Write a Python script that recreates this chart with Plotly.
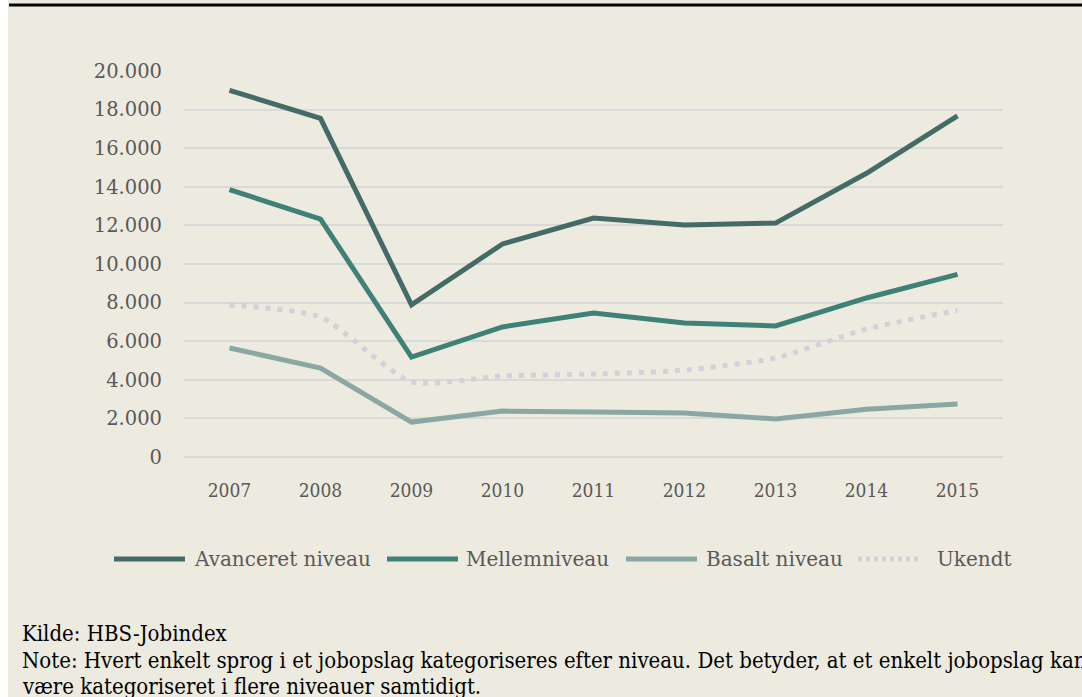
import plotly.graph_objects as go

years = ["2007", "2008", "2009", "2010", "2011", "2012", "2013", "2014", "2015"]
avanceret = [19000, 17550, 7880, 11040, 12380, 12020, 12120, 14700, 17670]
mellem = [13850, 12330, 5180, 6740, 7460, 6940, 6790, 8240, 9460]
basalt = [5650, 4610, 1810, 2380, 2330, 2280, 1970, 2470, 2750]
ukendt = [7880, 7250, 3890, 4200, 4300, 4500, 5130, 6630, 7600]
series_names = ["Avanceret niveau", "Mellemniveau", "Basalt niveau", "Ukendt"]
y_ticks = [0, 2000, 4000, 6000, 8000, 10000, 12000, 14000, 16000, 18000, 20000]
y_tick_text = ["0", "2.000", "4.000", "6.000", "8.000", "10.000", "12.000",
               "14.000", "16.000", "18.000", "20.000"]

# page offset of the figure (screen px)
OX, OY = 8, 0
W, H = 1082 - OX, 697 - OY
ML, MR, MT, MB = 184 - OX, 79, 71 - OY, 240
PW, PH = W - ML - MR, H - MT - MB
BG = "#EDEBE0"
colors = ["#456B66", "#3E8177", "#8AA8A3", "#D0D2D9"]


def px_x(p):  # screen px -> paper
    return (p - OX - ML) / PW


def px_y(p):
    return (H - MB - (p - OY)) / PH


fig = go.Figure()
for name, vals, col in zip(series_names, [avanceret, mellem, basalt, ukendt], colors):
    if name == "Ukendt":
        line = dict(color=col, width=5, dash="5px,7px", shape="spline", smoothing=0.6)
    else:
        line = dict(color=col, width=5)
    fig.add_trace(go.Scatter(x=years, y=vals, mode="lines", name=name,
                             line=line, showlegend=False, hoverinfo="skip"))

shapes = []
annotations = []
# black top rule
shapes.append(dict(type="line", xref="paper", yref="paper", x0=px_x(9), x1=px_x(1082),
                   y0=px_y(5), y1=px_y(5), line=dict(color="black", width=3)))

# manual legend
leg = [(114, 185, 192), (387, 458, 464), (626, 697, 704), (858, 922, 935)]
for (x0, x1, tx), name, col in zip(leg, series_names, colors):
    if name == "Ukendt":
        ln = dict(color=col, width=5, dash="4px,4px")
    else:
        ln = dict(color=col, width=5)
    shapes.append(dict(type="line", xref="paper", yref="paper", x0=px_x(x0), x1=px_x(x1),
                       y0=px_y(559), y1=px_y(559), line=ln))
    annotations.append(dict(text=name, xref="paper", yref="paper", x=px_x(tx), y=px_y(559),
                            xanchor="left", yanchor="middle", showarrow=False,
                            font=dict(family="DejaVu Serif", size=20, color="#595959")))

foot_font = dict(family="DejaVu Serif Condensed, Liberation Serif", size=22, color="#000000")
for txt, yy in [("Kilde: HBS-Jobindex", 633),
                ("Note: Hvert enkelt sprog i et jobopslag kategoriseres efter niveau. "
                 "Det betyder, at et enkelt jobopslag kan", 660),
                ("være kategoriseret i flere niveauer samtidigt.", 686)]:
    annotations.append(dict(text=txt, xref="paper", yref="paper",
                            x=px_x(20), y=px_y(yy), xanchor="left", yanchor="middle",
                            showarrow=False, font=foot_font))

fig.update_layout(
    width=W, height=H,
    margin=dict(l=ML, r=MR, t=MT, b=MB),
    paper_bgcolor=BG, plot_bgcolor=BG,
    shapes=shapes, annotations=annotations,
    xaxis=dict(type="category", range=[-0.5, 8.5], showgrid=False, zeroline=False,
               showline=False, ticks="", ticklabelstandoff=20,
               tickfont=dict(family="DejaVu Serif Condensed, Liberation Serif", size=19,
                             color="#595959")),
    yaxis=dict(range=[0, 20000], tickvals=y_ticks, ticktext=y_tick_text,
               showgrid=True, gridcolor="#D9D9D9", gridwidth=1.5,
               zeroline=True, zerolinecolor="#D9D9D9", zerolinewidth=1.5,
               showline=False, ticks="", ticklabelstandoff=21,
               tickfont=dict(family="DejaVu Serif", size=19.5, color="#595959")),
)

fig.write_html("out.html",
               post_script="document.body.style.margin='0 0 0 8px';"
                           "document.body.style.background='white';"
                           "document.body.style.overflow='hidden';")
